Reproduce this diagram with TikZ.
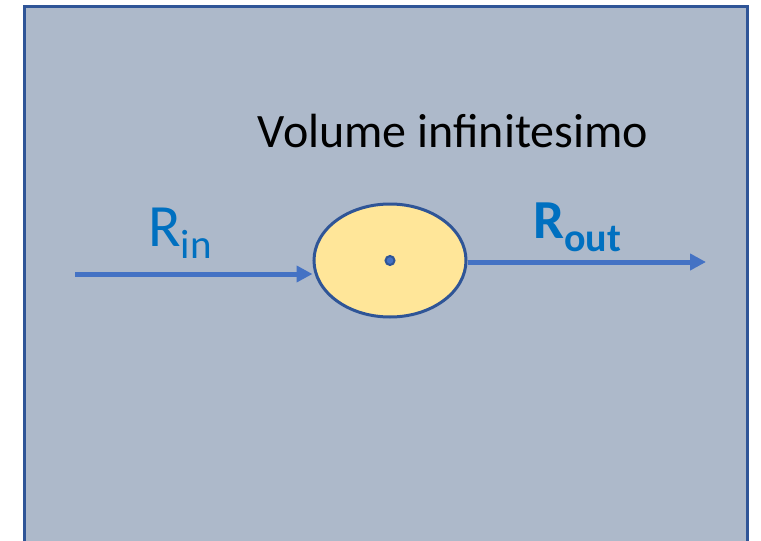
\documentclass[tikz,border=0pt]{standalone}
\usepackage{fontspec}
\setmainfont{Carlito}
\usepackage{xcolor}
\usetikzlibrary{shapes.geometric, positioning, arrows.meta}

\definecolor{panel}{HTML}{ADB9CA}
\definecolor{frameblue}{HTML}{2F5597}
\definecolor{flowblue}{HTML}{4472C4}
\definecolor{labelblue}{HTML}{0070C0}
\definecolor{volfill}{HTML}{FFE699}

\begin{document}
\begin{tikzpicture}[x=1pt,y=-1pt,
    flow/.style={line width=5pt, draw=flowblue, -{Triangle[length=16pt,width=16pt]}},
    volume/.style={ellipse, draw=frameblue, line width=3pt, fill=volfill, minimum width=152pt, minimum height=113pt, inner sep=0pt},
    centre/.style={circle, draw=frameblue, line width=2pt, fill=flowblue, minimum size=9pt, inner sep=0pt},
    rlabel/.style={text=labelblue, anchor=base west, inner sep=0pt}]
    \useasboundingbox (0,0) rectangle (761,541);
    \clip (0,0) rectangle (761,541);
    \fill[white] (0,0) rectangle (761,541);
    \draw[frameblue, line width=3pt, fill=panel] (24,6) rectangle (747,580);

    \node[volume] (vol) at (390,260.5) {};
    \node[centre] (dot) at (vol.center) {};
    \coordinate (inL) at (75,274);
    \coordinate (outR) at (706,262);

    \draw[flow] (inL) -- (vol.west |- inL);
    \draw[flow] (vol.east |- outR) -- (outR);

    \node[anchor=base, inner sep=0pt, font=\fontsize{48}{57}\selectfont] (title) at (453,147) {Volume infinitesimo};
    \node[rlabel, font=\fontsize{60}{70}\selectfont] (rin) at (148,246) {R\raisebox{-12pt}{\fontsize{41}{48}\selectfont in}};
    \node[rlabel, font=\fontsize{55}{64}\bfseries\selectfont] (rout) at (533,238) {R\raisebox{-13pt}{\fontsize{40}{48}\bfseries\selectfont out}};
\end{tikzpicture}
\end{document}
